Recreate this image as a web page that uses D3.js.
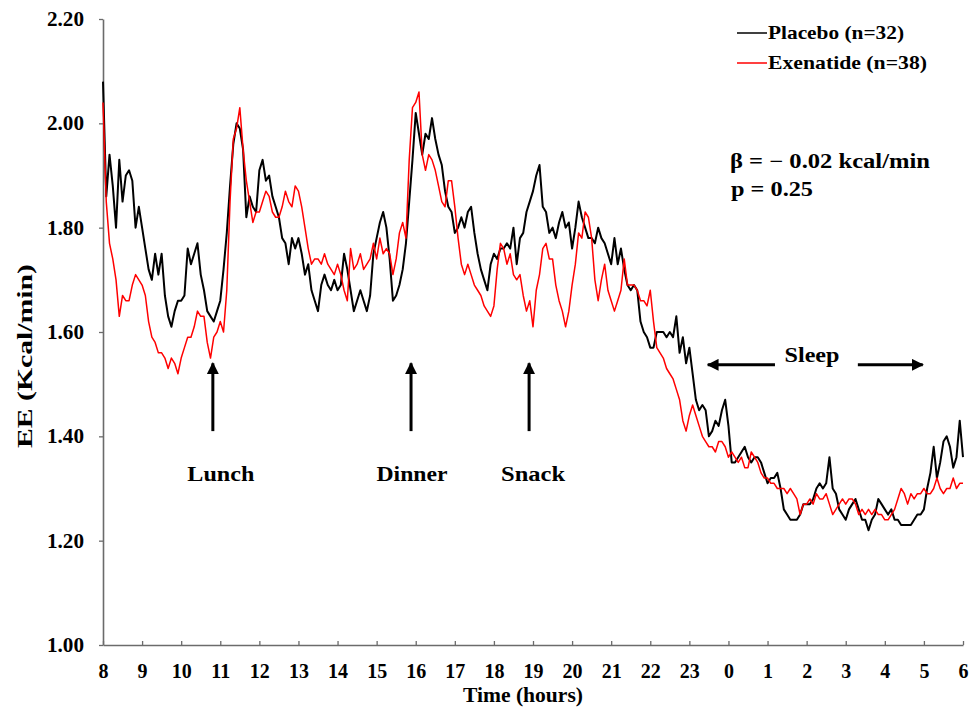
<!DOCTYPE html>
<html>
<head>
<meta charset="utf-8">
<script src="https://d3js.org/d3.v7.min.js"></script>
<style>
    body { margin: 0; background: #fff; }
    svg text { font-family: "Liberation Serif", "Times New Roman", serif; font-weight: bold; fill: #000; }
</style>
</head>
<body>
<script>
// time axis: hours since 08:00, one reading every 5 minutes
var stepMin = 5;
var hourLabels = ["8","9","10","11","12","13","14","15","16","17","18","19","20","21","22","23","0","1","2","3","4","5","6"];
var yTicks = [1.00, 1.20, 1.40, 1.60, 1.80, 2.00, 2.20];

var placebo = [
    2.08,1.86,1.94,1.88,1.80,1.93,1.85,1.90,1.91,1.89,1.80,1.84,1.80,1.76,1.72,1.70,1.75,1.71,1.75,1.67,
    1.63,1.61,1.64,1.66,1.66,1.67,1.76,1.73,1.75,1.77,1.71,1.68,1.64,1.63,1.62,1.64,1.66,1.72,1.79,1.88,
    1.96,2.00,1.99,1.95,1.82,1.86,1.84,1.83,1.91,1.93,1.89,1.90,1.86,1.84,1.82,1.78,1.77,1.73,1.78,1.76,
    1.78,1.75,1.71,1.73,1.68,1.66,1.64,1.69,1.71,1.69,1.68,1.70,1.68,1.69,1.75,1.72,1.68,1.64,1.66,1.68,
    1.66,1.64,1.67,1.75,1.78,1.81,1.83,1.80,1.74,1.66,1.67,1.69,1.72,1.77,1.85,1.93,2.02,1.98,1.94,1.98,
    1.97,2.01,1.97,1.94,1.92,1.87,1.84,1.83,1.79,1.80,1.82,1.80,1.83,1.84,1.79,1.75,1.72,1.70,1.68,1.73,
    1.75,1.74,1.76,1.76,1.77,1.76,1.80,1.73,1.78,1.79,1.83,1.85,1.87,1.90,1.92,1.84,1.83,1.79,1.80,1.78,
    1.81,1.83,1.80,1.81,1.76,1.80,1.85,1.82,1.80,1.78,1.78,1.77,1.80,1.78,1.77,1.75,1.73,1.78,1.73,1.76,
    1.72,1.69,1.68,1.69,1.68,1.62,1.60,1.59,1.57,1.57,1.60,1.60,1.60,1.59,1.60,1.59,1.63,1.56,1.59,1.54,
    1.57,1.52,1.47,1.45,1.46,1.45,1.40,1.41,1.43,1.42,1.45,1.47,1.42,1.35,1.35,1.36,1.37,1.38,1.36,1.35,
    1.36,1.36,1.35,1.33,1.31,1.32,1.32,1.33,1.30,1.26,1.25,1.24,1.24,1.24,1.25,1.27,1.27,1.27,1.28,1.30,
    1.31,1.30,1.31,1.36,1.30,1.29,1.26,1.25,1.24,1.26,1.27,1.28,1.26,1.24,1.24,1.22,1.24,1.25,1.28,1.27,
    1.26,1.25,1.26,1.24,1.24,1.23,1.23,1.23,1.23,1.24,1.25,1.25,1.26,1.30,1.33,1.38,1.32,1.35,1.39,1.40,
    1.38,1.34,1.36,1.43,1.36
];

var exenatide = [
    2.04,1.85,1.77,1.74,1.70,1.63,1.67,1.66,1.66,1.69,1.71,1.70,1.69,1.67,1.62,1.59,1.58,1.56,1.56,1.55,
    1.53,1.55,1.54,1.52,1.55,1.57,1.59,1.59,1.61,1.64,1.63,1.63,1.58,1.55,1.59,1.60,1.62,1.60,1.68,1.85,
    1.97,1.99,2.03,1.95,1.89,1.85,1.81,1.83,1.83,1.85,1.87,1.86,1.83,1.82,1.82,1.84,1.87,1.85,1.84,1.88,
    1.87,1.84,1.80,1.76,1.73,1.74,1.74,1.73,1.75,1.73,1.72,1.71,1.73,1.71,1.68,1.66,1.76,1.72,1.73,1.75,
    1.72,1.73,1.74,1.77,1.74,1.78,1.75,1.76,1.75,1.71,1.74,1.79,1.81,1.78,1.93,2.03,2.04,2.06,1.94,1.91,
    1.94,1.93,1.91,1.88,1.85,1.84,1.89,1.89,1.84,1.78,1.73,1.71,1.73,1.71,1.69,1.68,1.67,1.65,1.64,1.63,
    1.65,1.72,1.77,1.76,1.73,1.75,1.71,1.70,1.71,1.67,1.64,1.66,1.61,1.68,1.71,1.76,1.77,1.74,1.74,1.69,
    1.66,1.64,1.61,1.64,1.69,1.73,1.79,1.78,1.83,1.82,1.78,1.70,1.66,1.70,1.73,1.68,1.66,1.64,1.66,1.68,
    1.74,1.69,1.69,1.69,1.68,1.66,1.66,1.65,1.68,1.62,1.57,1.56,1.55,1.53,1.52,1.51,1.49,1.47,1.43,1.41,
    1.44,1.46,1.44,1.42,1.40,1.39,1.38,1.38,1.37,1.39,1.39,1.38,1.36,1.37,1.36,1.35,1.36,1.34,1.34,1.37,
    1.36,1.35,1.33,1.32,1.32,1.31,1.31,1.30,1.30,1.30,1.29,1.30,1.29,1.28,1.25,1.27,1.27,1.28,1.27,1.29,
    1.28,1.28,1.29,1.27,1.25,1.26,1.27,1.28,1.27,1.28,1.28,1.27,1.25,1.26,1.25,1.26,1.25,1.26,1.25,1.25,
    1.24,1.24,1.25,1.26,1.28,1.30,1.29,1.27,1.29,1.28,1.29,1.29,1.30,1.29,1.29,1.30,1.32,1.30,1.29,1.30,
    1.30,1.32,1.30,1.31,1.31
];

var series = [
    { name: "Placebo (n=32)", values: placebo, c: "#000", w: 2, len: 136 },
    { name: "Exenatide (n=38)", values: exenatide, c: "#ff0000", w: 1.5, len: 159 }
];

// meal arrows: time (h since 08:00)
var meals = [
    { label: "Lunch", t: 2.81, dx: 8, len: 67 },
    { label: "Dinner", t: 7.88, dx: 1, len: 71 },
    { label: "Snack", t: 10.9, dx: 4, len: 64 }
];

// text with a fixed rendered width (the source figure uses a wide face)
var label = function(g, x, y, txt, size, len, anchor) {
    return g.append("text")
        .attr("x", x)
        .attr("y", y)
        .attr("font-size", size)
        .attr("text-anchor", anchor || "start")
        .attr("textLength", len)
        .attr("lengthAdjust", "spacingAndGlyphs")
        .text(txt);
};

var draw = function() {
    var width = 972;
    var height = 711;

    var x = d3.scaleLinear().domain([0, 22]).range([103, 963]);
    var y = d3.scaleLinear().domain([1.0, 2.2]).range([645, 19]);

    var svg = d3.select("body").append("svg")
        .attr("width", width)
        .attr("height", height);

    svg.append("defs")
        .append("marker")
            .attr("id", "head")
            .attr("viewBox", "0 0 10 10")
            .attr("refX", 9)
            .attr("refY", 5)
            .attr("markerWidth", 4)
            .attr("markerHeight", 4)
            .attr("markerUnits", "strokeWidth")
            .attr("orient", "auto")
        .append("path")
            .attr("d", "M 0 0 L 10 5 L 0 10 z")
            .attr("fill", "#000");

    // axes
    var yAxis = svg.append("g")
        .attr("transform", "translate(103,0)")
        .call(d3.axisLeft(y).tickValues(yTicks).tickFormat(d3.format(".2f"))
            .tickSizeInner(4).tickSizeOuter(0).tickPadding(15));
    var xAxis = svg.append("g")
        .attr("transform", "translate(0,645)")
        .call(d3.axisBottom(x).tickValues(d3.range(0, 23)).tickFormat((d, i) => hourLabels[i])
            .tickSizeInner(-4).tickSizeOuter(0).tickPadding(19));

    [xAxis, yAxis].forEach(g => {
        g.select(".domain").attr("stroke", "#6b6b6b").attr("stroke-width", 1.6);
        g.selectAll(".tick line").attr("stroke", "#6b6b6b").attr("stroke-width", 1.3);
        g.selectAll(".tick text")
            .attr("font-size", 20)
            .attr("font-family", "Liberation Serif, Times New Roman, serif")
            .attr("font-weight", "bold")
            .attr("fill", "#000");
    });
    yAxis.selectAll(".tick text")
        .attr("textLength", 37)
        .attr("lengthAdjust", "spacingAndGlyphs");

    label(svg.append("g").attr("transform", "translate(32,356) rotate(-90)"),
        0, 0, "EE (Kcal/min)", 20, 184, "middle");
    label(svg, 523, 702, "Time (hours)", 20, 120, "middle");

    // lines
    var line = d3.line()
        .x((d, i) => x(i * stepMin / 60))
        .y(d => y(d));

    svg.append("g")
        .attr("fill", "none")
        .attr("stroke-linejoin", "round")
        .selectAll("path")
        .data(series)
        .join("path")
            .attr("stroke", d => d.c)
            .attr("stroke-width", d => d.w)
            .attr("d", d => line(d.values));

    // legend
    var leg = svg.append("g")
        .selectAll("g")
        .data(series)
        .join("g")
        .attr("transform", (d, i) => "translate(737," + (33 + i * 30) + ")");
    leg.append("line")
        .attr("x1", 0).attr("x2", 30)
        .attr("stroke", d => d.c)
        .attr("stroke-width", 1.5);
    leg.each(function(d) {
        label(d3.select(this), 31, 6, d.name, 19, d.len);
    });

    label(svg, 730, 168, "\u03b2 = \u2212 0.02 kcal/min", 20, 200);
    label(svg, 731, 196, "p = 0.25", 20, 82);

    // meal arrows
    var m = svg.append("g")
        .selectAll("g")
        .data(meals)
        .join("g");
    m.append("line")
        .attr("x1", d => x(d.t)).attr("x2", d => x(d.t))
        .attr("y1", y(1.41)).attr("y2", y(1.54))
        .attr("stroke", "#000")
        .attr("stroke-width", 3)
        .attr("marker-end", "url(#head)");
    m.each(function(d) {
        label(d3.select(this), x(d.t) + d.dx, y(1.315), d.label, 20, d.len, "middle");
    });

    // sleep
    var sleep = svg.append("g");
    sleep.append("line")
        .attr("x1", x(17.19)).attr("x2", x(15.47))
        .attr("y1", y(1.537)).attr("y2", y(1.537))
        .attr("stroke", "#000").attr("stroke-width", 3)
        .attr("marker-end", "url(#head)");
    sleep.append("line")
        .attr("x1", x(19.31)).attr("x2", x(20.97))
        .attr("y1", y(1.537)).attr("y2", y(1.537))
        .attr("stroke", "#000").attr("stroke-width", 3)
        .attr("marker-end", "url(#head)");
    label(sleep, 812, 362, "Sleep", 21, 55, "middle");
};

window.onload = function() {
    draw();
};
</script>
</body>
</html>
